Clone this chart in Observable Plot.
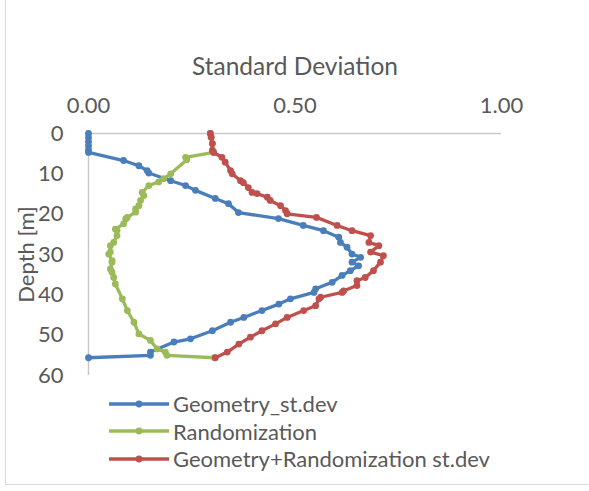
<!DOCTYPE html>
<html>
<head>
<meta charset="utf-8">
<script src="https://cdn.jsdelivr.net/npm/d3@7"></script>
<script src="https://cdn.jsdelivr.net/npm/@observablehq/plot@0.6"></script>
<style>
  html, body { margin: 0; padding: 0; background: #fff; }
  #wrap { position: relative; width: 589px; height: 491px; overflow: hidden; font-family: Lato, "Open Sans", sans-serif; }
  #frame { position: absolute; left: 5px; top: -2px; width: 600px; height: 486px; border-left: 1.5px solid #d9d9d9; border-bottom: 1.5px solid #d9d9d9; }
  #chart { position: absolute; left: 0; top: 0; }
  #legend { position: absolute; left: 108px; top: 390px; }
  .row { display: flex; align-items: center; height: 27.5px; color: #595959; font-size: 22px; }
  .row svg { margin-right: 3px; }
</style>
</head>
<body>
<div id="wrap"><div id="frame"></div><div id="chart"></div><div id="legend"></div></div>
<script>
const title = "Standard Deviation";
const yTitle = "Depth [m]";
const xTicks = [0, 0.5, 1];
const yTicks = [0, 10, 20, 30, 40, 50, 60];
const seriesNames = ["Geometry_st.dev", "Randomization", "Geometry+Randomization st.dev"];
const seriesColors = ["#4a7ebb", "#9bbb59", "#c0504d"];

const geomDepth = [0, 1, 2, 3, 4, 4.7, 6.7, 8.0, 9.2, 9.8, 11.7, 12.9, 14.1, 16.1, 17.4, 19.6, 21.1, 22.8, 24.1, 25.7, 27.0, 28.2, 29.9, 30.7, 31.9, 32.8, 34.0, 35.2, 36.9, 38.5, 39.4, 41.0, 42.3, 43.9, 45.6, 46.8, 48.9, 50.9, 51.7, 54.2, 55.0, 55.6];
const geomValue = [0, 0, 0, 0, 0, 0, 0.085, 0.122, 0.142, 0.146, 0.199, 0.235, 0.259, 0.307, 0.339, 0.363, 0.46, 0.52, 0.569, 0.606, 0.61, 0.626, 0.638, 0.659, 0.638, 0.654, 0.634, 0.614, 0.59, 0.55, 0.546, 0.489, 0.461, 0.42, 0.376, 0.344, 0.30, 0.247, 0.207, 0.15, 0.15, 0];

const randDepth = [0, 0.9, 2.5, 4.2, 4.7, 5.9, 6.5, 10.0, 11.2, 12.0, 12.9, 14.6, 15.4, 16.6, 17.9, 18.7, 19.5, 20.8, 21.2, 22.4, 23.7, 24.0, 25.3, 27.0, 27.8, 29.4, 29.9, 31.5, 31.9, 33.6, 34.4, 35.7, 37.3, 41.0, 43.9, 46.8, 49.7, 51.3, 53.4, 54.2, 55.0, 55.6];
const randValue = [0.295, 0.297, 0.30, 0.30, 0.303, 0.235, 0.238, 0.199, 0.182, 0.17, 0.146, 0.13, 0.134, 0.126, 0.122, 0.114, 0.114, 0.094, 0.09, 0.085, 0.065, 0.069, 0.069, 0.061, 0.053, 0.053, 0.049, 0.057, 0.057, 0.053, 0.057, 0.061, 0.065, 0.082, 0.094, 0.11, 0.122, 0.15, 0.166, 0.186, 0.19, 0.305];

const combDepth = [0, 0.9, 2.5, 4.2, 4.7, 5.9, 7.1, 9.2, 10.0, 11.7, 12.2, 13.4, 14.6, 14.9, 15.8, 16.6, 17.9, 19.1, 19.9, 20.8, 22.8, 24.1, 25.3, 27.0, 27.8, 29.4, 30.3, 31.9, 34.0, 35.7, 36.5, 37.7, 39.0, 39.4, 40.6, 41.0, 42.7, 43.9, 45.6, 47.2, 48.9, 50.5, 52.2, 54.2, 55.6];
const combValue = [0.295, 0.297, 0.30, 0.30, 0.303, 0.323, 0.331, 0.344, 0.348, 0.368, 0.375, 0.387, 0.396, 0.408, 0.433, 0.44, 0.465, 0.477, 0.481, 0.552, 0.602, 0.638, 0.683, 0.679, 0.703, 0.683, 0.714, 0.707, 0.69, 0.67, 0.65, 0.65, 0.618, 0.614, 0.562, 0.558, 0.55, 0.521, 0.481, 0.453, 0.42, 0.392, 0.364, 0.336, 0.307];

const series = [
  {depth: geomDepth, value: geomValue},
  {depth: randDepth, value: randValue},
  {depth: combDepth, value: combValue}
].map((s, i) => s.depth.map((d, j) => ({series: seriesNames[i], depth: d, value: s.value[j]})));

const textColor = "#595959";
const axisColor = "#c8c8c8";

const marks = [
  Plot.ruleY([0], {stroke: axisColor, strokeWidth: 1.5}),
  Plot.ruleX([0], {stroke: axisColor, strokeWidth: 1.5}),
  Plot.axisX({anchor: "top", ticks: xTicks, tickFormat: d3.format(".2f"), tickSize: 0, tickPadding: 21, label: null, fontSize: 22, color: textColor}),
  Plot.axisY({anchor: "left", ticks: yTicks, tickSize: 0, tickPadding: 25, label: null, fontSize: 22, color: textColor}),
  Plot.text([title], {frameAnchor: "top", dy: -66, fontSize: 24.5, fill: textColor, lineAnchor: "middle"}),
  Plot.text([yTitle], {frameAnchor: "left", dx: -62, rotate: -90, fontSize: 22, fill: textColor, lineAnchor: "middle", textAnchor: "middle"})
];
series.forEach((rows, i) => {
  marks.push(Plot.line(rows, {x: "value", y: "depth", stroke: seriesColors[i], strokeWidth: 3.3}));
  marks.push(Plot.dot(rows, {x: "value", y: "depth", r: 3.4, fill: seriesColors[i], stroke: "none"}));
});

const chart = Plot.plot({
  width: 589,
  height: 385,
  marginTop: 133,
  marginLeft: 88,
  marginRight: 88,
  marginBottom: 10,
  style: {fontFamily: "Lato, 'Open Sans', sans-serif", background: "transparent", overflow: "visible"},
  x: {domain: [0, 1], axis: null},
  y: {domain: [0, 60], reverse: true, axis: null},
  marks
});
document.getElementById("chart").appendChild(chart);

const legend = document.getElementById("legend");
seriesNames.forEach((name, i) => {
  const row = document.createElement("div");
  row.className = "row";
  row.innerHTML = `<svg width="62" height="10"><line x1="1" x2="61" y1="5" y2="5" stroke="${seriesColors[i]}" stroke-width="3.3"/><circle cx="31" cy="5" r="3.4" fill="${seriesColors[i]}"/></svg><span>${name}</span>`;
  legend.appendChild(row);
});
</script>
</body>
</html>
